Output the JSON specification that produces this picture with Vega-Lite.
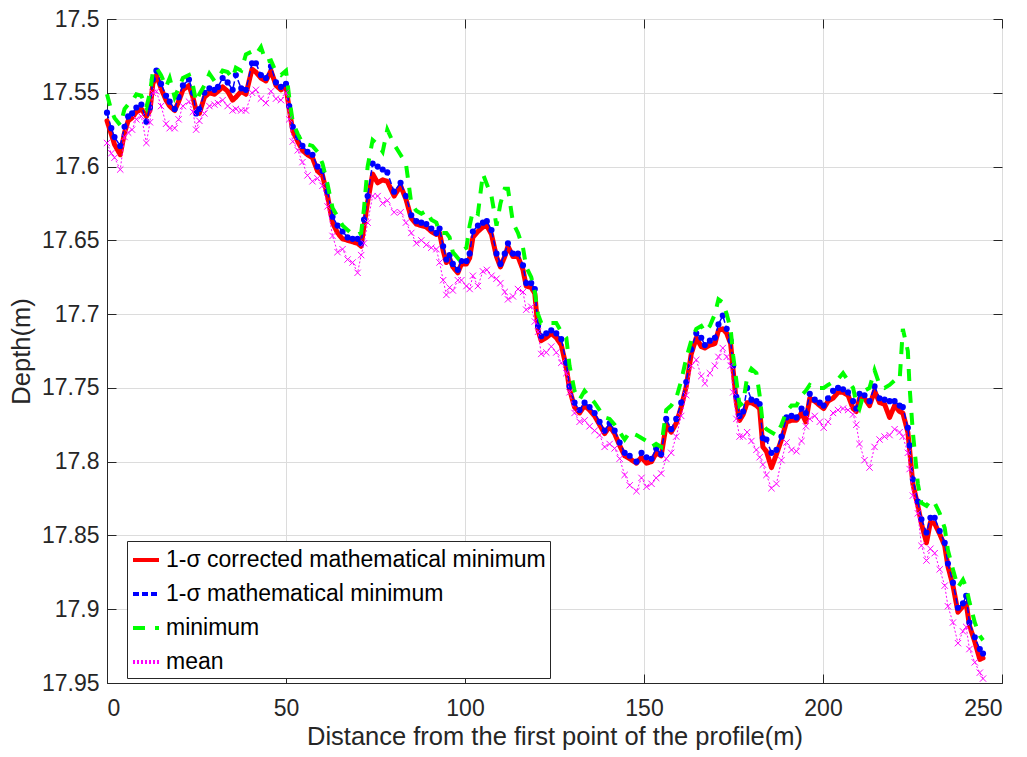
{
  "$schema": "https://vega.github.io/schema/vega-lite/v6.json",
  "width": 895,
  "height": 664,
  "autosize": "none",
  "padding": {"left": 107, "top": 19, "right": 25, "bottom": 74},
  "background": "white",
  "config": {
    "font": "Liberation Sans",
    "view": {"stroke": "#262626", "strokeWidth": 1},
    "axis": {
      "labelFont": "Liberation Sans", "labelFontSize": 23, "labelColor": "#262626",
      "titleFont": "Liberation Sans", "titleFontSize": 25.5, "titleColor": "#262626", "titleFontWeight": "normal",
      "domainColor": "#262626", "tickColor": "#262626", "tickSize": -9,
      "gridColor": "#dcdcdc", "gridWidth": 1
    },
    "legend": {
      "labelFont": "Liberation Sans", "labelFontSize": 23, "labelColor": "#000000", "labelLimit": 600
    }
  },
  "data": {
    "values": [
      {"d":0,"A":17.569,"B":17.5635,"C":17.551,"D":17.584},
      {"d":1.2,"A":17.578,"B":17.574,"C":17.562,"D":17.591},
      {"d":2.1,"A":17.585,"B":17.58,"C":17.567,"D":17.594},
      {"d":3.7,"A":17.592,"B":17.586,"C":17.572,"D":17.602},
      {"d":4.9,"A":17.577,"B":17.573,"C":17.561,"D":17.58},
      {"d":5.9,"A":17.569,"B":17.566,"C":17.558,"D":17.577},
      {"d":7,"A":17.567,"B":17.564,"C":17.556,"D":17.575},
      {"d":8.2,"A":17.563,"B":17.56,"C":17.551,"D":17.568},
      {"d":9.6,"A":17.561,"B":17.558,"C":17.552,"D":17.566},
      {"d":11,"A":17.566,"B":17.5696,"C":17.56,"D":17.584},
      {"d":12,"A":17.562,"B":17.56,"C":17.55,"D":17.57},
      {"d":12.8,"A":17.544,"B":17.541,"C":17.536,"D":17.55},
      {"d":13.8,"A":17.538,"B":17.535,"C":17.533,"D":17.549},
      {"d":15.1,"A":17.547,"B":17.544,"C":17.538,"D":17.559},
      {"d":16.5,"A":17.555,"B":17.552,"C":17.546,"D":17.571},
      {"d":17.5,"A":17.559,"B":17.556,"C":17.54,"D":17.574},
      {"d":18.9,"A":17.562,"B":17.561,"C":17.553,"D":17.574},
      {"d":20,"A":17.556,"B":17.553,"C":17.547,"D":17.568},
      {"d":21.2,"A":17.548,"B":17.545,"C":17.54,"D":17.559},
      {"d":22.9,"A":17.545,"B":17.541,"C":17.538,"D":17.556},
      {"d":24,"A":17.553,"B":17.55,"C":17.545,"D":17.563},
      {"d":24.9,"A":17.562,"B":17.564,"C":17.556,"D":17.575},
      {"d":25.8,"A":17.564,"B":17.561,"C":17.551,"D":17.569},
      {"d":27.2,"A":17.553,"B":17.55,"C":17.545,"D":17.564},
      {"d":28.6,"A":17.55,"B":17.547,"C":17.537,"D":17.559},
      {"d":30,"A":17.551,"B":17.548,"C":17.542,"D":17.558},
      {"d":31,"A":17.549,"B":17.546,"C":17.54,"D":17.557},
      {"d":32.3,"A":17.546,"B":17.54,"C":17.535,"D":17.555},
      {"d":33.7,"A":17.549,"B":17.543,"C":17.536,"D":17.559},
      {"d":35.1,"A":17.555,"B":17.548,"C":17.54,"D":17.562},
      {"d":36,"A":17.553,"B":17.538,"C":17.533,"D":17.561},
      {"d":37.5,"A":17.549,"B":17.547,"C":17.535,"D":17.562},
      {"d":38.8,"A":17.551,"B":17.548,"C":17.524,"D":17.562},
      {"d":40.5,"A":17.534,"B":17.53,"C":17.522,"D":17.55},
      {"d":41.6,"A":17.536,"B":17.53,"C":17.524,"D":17.548},
      {"d":43,"A":17.54,"B":17.538,"C":17.519,"D":17.554},
      {"d":44.4,"A":17.542,"B":17.54,"C":17.529,"D":17.557},
      {"d":45.8,"A":17.535,"B":17.532,"C":17.528,"D":17.549},
      {"d":47.2,"A":17.545,"B":17.543,"C":17.536,"D":17.554},
      {"d":48.6,"A":17.548,"B":17.546,"C":17.538,"D":17.555},
      {"d":50,"A":17.546,"B":17.544,"C":17.535,"D":17.55},
      {"d":50.9,"A":17.561,"B":17.559,"C":17.553,"D":17.568},
      {"d":51.9,"A":17.576,"B":17.573,"C":17.57,"D":17.583},
      {"d":53.3,"A":17.583,"B":17.58,"C":17.578,"D":17.589},
      {"d":54.6,"A":17.589,"B":17.586,"C":17.584,"D":17.597},
      {"d":56,"A":17.592,"B":17.59,"C":17.585,"D":17.606},
      {"d":57.4,"A":17.594,"B":17.592,"C":17.586,"D":17.61},
      {"d":58.8,"A":17.603,"B":17.6,"C":17.59,"D":17.608},
      {"d":60.2,"A":17.606,"B":17.603,"C":17.598,"D":17.613},
      {"d":61.6,"A":17.62,"B":17.617,"C":17.612,"D":17.627},
      {"d":63,"A":17.638,"B":17.634,"C":17.628,"D":17.647},
      {"d":64.4,"A":17.645,"B":17.64,"C":17.634,"D":17.658},
      {"d":65.8,"A":17.649,"B":17.644,"C":17.64,"D":17.656},
      {"d":67.2,"A":17.65,"B":17.648,"C":17.643,"D":17.663},
      {"d":68.6,"A":17.651,"B":17.649,"C":17.646,"D":17.665},
      {"d":70,"A":17.652,"B":17.649,"C":17.646,"D":17.672},
      {"d":71,"A":17.654,"B":17.652,"C":17.645,"D":17.66},
      {"d":71.8,"A":17.64,"B":17.636,"C":17.628,"D":17.652},
      {"d":72.8,"A":17.624,"B":17.62,"C":17.6,"D":17.638},
      {"d":74.2,"A":17.605,"B":17.598,"C":17.582,"D":17.62},
      {"d":75.6,"A":17.611,"B":17.6,"C":17.585,"D":17.62},
      {"d":77,"A":17.609,"B":17.602,"C":17.59,"D":17.625},
      {"d":78.3,"A":17.61,"B":17.604,"C":17.575,"D":17.623},
      {"d":80.2,"A":17.62,"B":17.617,"C":17.585,"D":17.631},
      {"d":82,"A":17.613,"B":17.611,"C":17.592,"D":17.631},
      {"d":83.5,"A":17.622,"B":17.62,"C":17.598,"D":17.638},
      {"d":85,"A":17.635,"B":17.633,"C":17.625,"D":17.645},
      {"d":86.4,"A":17.639,"B":17.637,"C":17.63,"D":17.652},
      {"d":87.8,"A":17.64,"B":17.638,"C":17.632,"D":17.65},
      {"d":89.2,"A":17.641,"B":17.639,"C":17.63,"D":17.653},
      {"d":90.6,"A":17.644,"B":17.642,"C":17.636,"D":17.655},
      {"d":92,"A":17.646,"B":17.645,"C":17.638,"D":17.656},
      {"d":92.9,"A":17.645,"B":17.642,"C":17.645,"D":17.665},
      {"d":93.9,"A":17.657,"B":17.654,"C":17.645,"D":17.677},
      {"d":94.8,"A":17.665,"B":17.663,"C":17.645,"D":17.687},
      {"d":95.7,"A":17.662,"B":17.66,"C":17.648,"D":17.682},
      {"d":96.6,"A":17.668,"B":17.666,"C":17.658,"D":17.684},
      {"d":98,"A":17.672,"B":17.67,"C":17.662,"D":17.677},
      {"d":99,"A":17.666,"B":17.664,"C":17.657,"D":17.677},
      {"d":100.4,"A":17.666,"B":17.664,"C":17.655,"D":17.681},
      {"d":101.3,"A":17.662,"B":17.659,"C":17.64,"D":17.683},
      {"d":102.2,"A":17.648,"B":17.644,"C":17.63,"D":17.674},
      {"d":103.6,"A":17.644,"B":17.64,"C":17.632,"D":17.681},
      {"d":105,"A":17.641,"B":17.638,"C":17.605,"D":17.671},
      {"d":106.1,"A":17.64,"B":17.637,"C":17.612,"D":17.67},
      {"d":107.4,"A":17.646,"B":17.643,"C":17.62,"D":17.674},
      {"d":108.8,"A":17.661,"B":17.659,"C":17.64,"D":17.676},
      {"d":109.9,"A":17.668,"B":17.666,"C":17.625,"D":17.679},
      {"d":111.1,"A":17.661,"B":17.659,"C":17.615,"D":17.685},
      {"d":112,"A":17.654,"B":17.652,"C":17.615,"D":17.69},
      {"d":113.4,"A":17.661,"B":17.659,"C":17.638,"D":17.688},
      {"d":114.8,"A":17.661,"B":17.659,"C":17.645,"D":17.683},
      {"d":116.2,"A":17.67,"B":17.667,"C":17.655,"D":17.685},
      {"d":117.1,"A":17.681,"B":17.679,"C":17.668,"D":17.697},
      {"d":118.5,"A":17.682,"B":17.679,"C":17.675,"D":17.695},
      {"d":119.5,"A":17.686,"B":17.683,"C":17.685,"D":17.705},
      {"d":120.4,"A":17.711,"B":17.708,"C":17.7,"D":17.712},
      {"d":121.3,"A":17.718,"B":17.715,"C":17.706,"D":17.727},
      {"d":122.7,"A":17.716,"B":17.713,"C":17.706,"D":17.726},
      {"d":124.1,"A":17.713,"B":17.711,"C":17.706,"D":17.722},
      {"d":125.5,"A":17.716,"B":17.713,"C":17.706,"D":17.726},
      {"d":126.9,"A":17.721,"B":17.717,"C":17.712,"D":17.733},
      {"d":128.3,"A":17.736,"B":17.733,"C":17.716,"D":17.74},
      {"d":129.2,"A":17.751,"B":17.749,"C":17.735,"D":17.753},
      {"d":130.6,"A":17.763,"B":17.76,"C":17.752,"D":17.767},
      {"d":132,"A":17.767,"B":17.765,"C":17.758,"D":17.773},
      {"d":133.4,"A":17.762,"B":17.76,"C":17.752,"D":17.772},
      {"d":134.8,"A":17.765,"B":17.763,"C":17.756,"D":17.776},
      {"d":136.2,"A":17.769,"B":17.767,"C":17.76,"D":17.779},
      {"d":137.6,"A":17.775,"B":17.773,"C":17.765,"D":17.782},
      {"d":139,"A":17.781,"B":17.779,"C":17.77,"D":17.79},
      {"d":140.4,"A":17.776,"B":17.774,"C":17.771,"D":17.788},
      {"d":141.8,"A":17.781,"B":17.779,"C":17.775,"D":17.791},
      {"d":143.2,"A":17.789,"B":17.787,"C":17.78,"D":17.798},
      {"d":144.6,"A":17.796,"B":17.794,"C":17.785,"D":17.809},
      {"d":146,"A":17.798,"B":17.796,"C":17.78,"D":17.816},
      {"d":147.9,"A":17.801,"B":17.8,"C":17.782,"D":17.82},
      {"d":149.3,"A":17.797,"B":17.794,"C":17.784,"D":17.811},
      {"d":150.7,"A":17.801,"B":17.797,"C":17.786,"D":17.817},
      {"d":152.1,"A":17.8,"B":17.798,"C":17.79,"D":17.815},
      {"d":153.4,"A":17.794,"B":17.791,"C":17.788,"D":17.811},
      {"d":154.8,"A":17.796,"B":17.795,"C":17.79,"D":17.808},
      {"d":156.2,"A":17.775,"B":17.771,"C":17.765,"D":17.798},
      {"d":157.6,"A":17.78,"B":17.778,"C":17.762,"D":17.794},
      {"d":159,"A":17.774,"B":17.771,"C":17.757,"D":17.783},
      {"d":160.4,"A":17.763,"B":17.76,"C":17.745,"D":17.769},
      {"d":161.8,"A":17.749,"B":17.746,"C":17.73,"D":17.755},
      {"d":163.2,"A":17.727,"B":17.724,"C":17.718,"D":17.735},
      {"d":164.6,"A":17.716,"B":17.713,"C":17.71,"D":17.731},
      {"d":166,"A":17.722,"B":17.716,"C":17.708,"D":17.742},
      {"d":167,"A":17.723,"B":17.721,"C":17.712,"D":17.747},
      {"d":168.4,"A":17.721,"B":17.718,"C":17.708,"D":17.74},
      {"d":169.8,"A":17.72,"B":17.716,"C":17.7,"D":17.735},
      {"d":170.8,"A":17.711,"B":17.707,"C":17.69,"D":17.729},
      {"d":172,"A":17.71,"B":17.701,"C":17.692,"D":17.723},
      {"d":173.1,"A":17.713,"B":17.71,"C":17.7,"D":17.729},
      {"d":174.2,"A":17.72,"B":17.718,"C":17.71,"D":17.735},
      {"d":174.9,"A":17.738,"B":17.735,"C":17.728,"D":17.753},
      {"d":175.8,"A":17.76,"B":17.756,"C":17.745,"D":17.771},
      {"d":176.7,"A":17.772,"B":17.769,"C":17.762,"D":17.783},
      {"d":177.7,"A":17.768,"B":17.766,"C":17.76,"D":17.783},
      {"d":178.8,"A":17.76,"B":17.75,"C":17.743,"D":17.78},
      {"d":180,"A":17.76,"B":17.758,"C":17.737,"D":17.786},
      {"d":181.4,"A":17.762,"B":17.759,"C":17.74,"D":17.792},
      {"d":182.3,"A":17.764,"B":17.761,"C":17.755,"D":17.797},
      {"d":183.2,"A":17.79,"B":17.784,"C":17.775,"D":17.802},
      {"d":184.2,"A":17.793,"B":17.785,"C":17.778,"D":17.809},
      {"d":185.6,"A":17.804,"B":17.794,"C":17.78,"D":17.818},
      {"d":187,"A":17.795,"B":17.792,"C":17.782,"D":17.815},
      {"d":188.4,"A":17.785,"B":17.783,"C":17.775,"D":17.799},
      {"d":189.8,"A":17.773,"B":17.77,"C":17.766,"D":17.787},
      {"d":191.2,"A":17.772,"B":17.769,"C":17.762,"D":17.792},
      {"d":192.6,"A":17.772,"B":17.77,"C":17.762,"D":17.793},
      {"d":194,"A":17.767,"B":17.764,"C":17.755,"D":17.786},
      {"d":195.2,"A":17.773,"B":17.767,"C":17.752,"D":17.776},
      {"d":196.3,"A":17.757,"B":17.754,"C":17.748,"D":17.771},
      {"d":197.7,"A":17.759,"B":17.758,"C":17.75,"D":17.769},
      {"d":199.1,"A":17.762,"B":17.76,"C":17.75,"D":17.773},
      {"d":200.2,"A":17.764,"B":17.762,"C":17.75,"D":17.777},
      {"d":201.4,"A":17.759,"B":17.757,"C":17.748,"D":17.773},
      {"d":202.8,"A":17.757,"B":17.752,"C":17.746,"D":17.767},
      {"d":204.2,"A":17.753,"B":17.75,"C":17.744,"D":17.765},
      {"d":205.6,"A":17.753,"B":17.751,"C":17.74,"D":17.764},
      {"d":207,"A":17.755,"B":17.753,"C":17.745,"D":17.765},
      {"d":208.4,"A":17.764,"B":17.759,"C":17.75,"D":17.768},
      {"d":209.3,"A":17.766,"B":17.764,"C":17.76,"D":17.775},
      {"d":210.2,"A":17.757,"B":17.754,"C":17.764,"D":17.788},
      {"d":211.6,"A":17.757,"B":17.755,"C":17.752,"D":17.799},
      {"d":213,"A":17.762,"B":17.759,"C":17.75,"D":17.804},
      {"d":214.4,"A":17.752,"B":17.749,"C":17.738,"D":17.79},
      {"d":215.8,"A":17.76,"B":17.757,"C":17.748,"D":17.785},
      {"d":217.2,"A":17.761,"B":17.758,"C":17.75,"D":17.783},
      {"d":218.6,"A":17.77,"B":17.759,"C":17.748,"D":17.782},
      {"d":220,"A":17.762,"B":17.759,"C":17.745,"D":17.778},
      {"d":221.4,"A":17.766,"B":17.762,"C":17.745,"D":17.78},
      {"d":222.3,"A":17.767,"B":17.763,"C":17.71,"D":17.783},
      {"d":223.7,"A":17.78,"B":17.777,"C":17.725,"D":17.794},
      {"d":224.2,"A":17.792,"B":17.789,"C":17.75,"D":17.805},
      {"d":225.1,"A":17.815,"B":17.812,"C":17.78,"D":17.823},
      {"d":226.5,"A":17.83,"B":17.827,"C":17.815,"D":17.835},
      {"d":227.5,"A":17.842,"B":17.839,"C":17.828,"D":17.857},
      {"d":228.9,"A":17.855,"B":17.848,"C":17.83,"D":17.867},
      {"d":230,"A":17.841,"B":17.838,"C":17.826,"D":17.859},
      {"d":231.2,"A":17.842,"B":17.838,"C":17.828,"D":17.862},
      {"d":232.6,"A":17.849,"B":17.847,"C":17.835,"D":17.873},
      {"d":234,"A":17.857,"B":17.855,"C":17.845,"D":17.884},
      {"d":234.9,"A":17.871,"B":17.869,"C":17.86,"D":17.898},
      {"d":236.3,"A":17.884,"B":17.882,"C":17.873,"D":17.909},
      {"d":237.7,"A":17.902,"B":17.899,"C":17.885,"D":17.923},
      {"d":239.1,"A":17.898,"B":17.896,"C":17.88,"D":17.915},
      {"d":240,"A":17.896,"B":17.891,"C":17.885,"D":17.912},
      {"d":240.9,"A":17.911,"B":17.909,"C":17.895,"D":17.927},
      {"d":242.4,"A":17.922,"B":17.919,"C":17.909,"D":17.936},
      {"d":243.8,"A":17.934,"B":17.927,"C":17.918,"D":17.943},
      {"d":244.7,"A":17.933,"B":17.93,"C":17.921,"D":17.947}
    ]
  },
  "transform": [{"fold": ["A", "B", "C", "D"], "as": ["series", "depth"]}],
  "layer": [
    {
      "encoding": {
        "x": {"field": "d", "type": "quantitative", "scale": {"domain": [0, 250], "nice": false, "zero": false},
              "axis": {"title": "Distance from the first point of the profile(m)", "values": [0, 50, 100, 150, 200, 250], "labelPadding": 23, "titlePadding": 4, "grid": true}},
        "y": {"field": "depth", "type": "quantitative", "scale": {"domain": [17.5, 17.95], "reverse": true, "nice": false, "zero": false},
              "axis": {"title": "Depth(m)", "format": ".2~f", "values": [17.5, 17.55, 17.6, 17.65, 17.7, 17.75, 17.8, 17.85, 17.9, 17.95], "labelPadding": 17, "titlePadding": 7, "grid": true}}
      },
      "layer": [
        {
          "transform": [{"filter": "datum.series == 'A'"}],
          "mark": {"type": "line", "strokeWidth": 5, "strokeCap": "round", "strokeJoin": "round"},
          "encoding": {
            "color": {"field": "series", "type": "nominal",
              "scale": {"domain": ["A", "B", "C", "D"], "range": ["#ff0000", "#0000ff", "#00ff00", "#ff00ff"]},
              "legend": {"orient": "none", "legendX": 20, "legendY": 522, "title": null, "symbolType": "stroke", "symbolSize": 676, "symbolStrokeWidth": 4, "strokeColor": "#262626", "fillColor": "white", "padding": 4, "rowPadding": 7, "labelOffset": 5,
                "labelExpr": "datum.label == 'A' ? '1-σ corrected mathematical minimum' : datum.label == 'B' ? '1-σ mathematical minimum' : datum.label == 'C' ? 'minimum' : 'mean'"}},
            "strokeDash": {"field": "series", "type": "nominal",
              "scale": {"domain": ["A", "B", "C", "D"], "range": [[1, 0], [6, 3], [12, 10], [2, 2]]}}
          }
        },
        {
          "transform": [{"filter": "datum.series == 'B'"}],
          "mark": {"type": "line", "strokeWidth": 1.5},
          "encoding": {
            "color": {"field": "series", "type": "nominal"},
            "strokeDash": {"field": "series", "type": "nominal"}
          }
        },
        {
          "transform": [{"filter": "datum.series == 'B'"}],
          "mark": {"type": "point", "filled": true, "color": "#0000ff", "size": 38, "opacity": 1}
        },
        {
          "transform": [{"filter": "datum.series == 'C'"}],
          "mark": {"type": "line", "strokeWidth": 4},
          "encoding": {
            "color": {"field": "series", "type": "nominal"},
            "strokeDash": {"field": "series", "type": "nominal"}
          }
        },
        {
          "transform": [{"filter": "datum.series == 'D'"}],
          "mark": {"type": "line", "strokeWidth": 1},
          "encoding": {
            "color": {"field": "series", "type": "nominal"},
            "strokeDash": {"field": "series", "type": "nominal"}
          }
        },
        {
          "transform": [{"filter": "datum.series == 'D'"}],
          "mark": {"type": "point", "shape": "M-1,-1L1,1M-1,1L1,-1", "filled": false, "color": "#ff00ff", "strokeWidth": 1, "size": 40, "opacity": 1}
        }
      ]
    },
    {
      "transform": [{"filter": "datum.series == 'D'"}],
      "mark": {"type": "line", "opacity": 0},
      "encoding": {
        "x": {"field": "d", "type": "quantitative",
              "axis": {"orient": "top", "labels": false, "title": null, "grid": false, "domain": false, "values": [0, 50, 100, 150, 200, 250]}},
        "y": {"field": "depth", "type": "quantitative",
              "axis": {"orient": "right", "labels": false, "title": null, "grid": false, "domain": false, "values": [17.5, 17.55, 17.6, 17.65, 17.7, 17.75, 17.8, 17.85, 17.9, 17.95]}}
      }
    }
  ],
  "resolve": {"axis": {"x": "independent", "y": "independent"}}
}
